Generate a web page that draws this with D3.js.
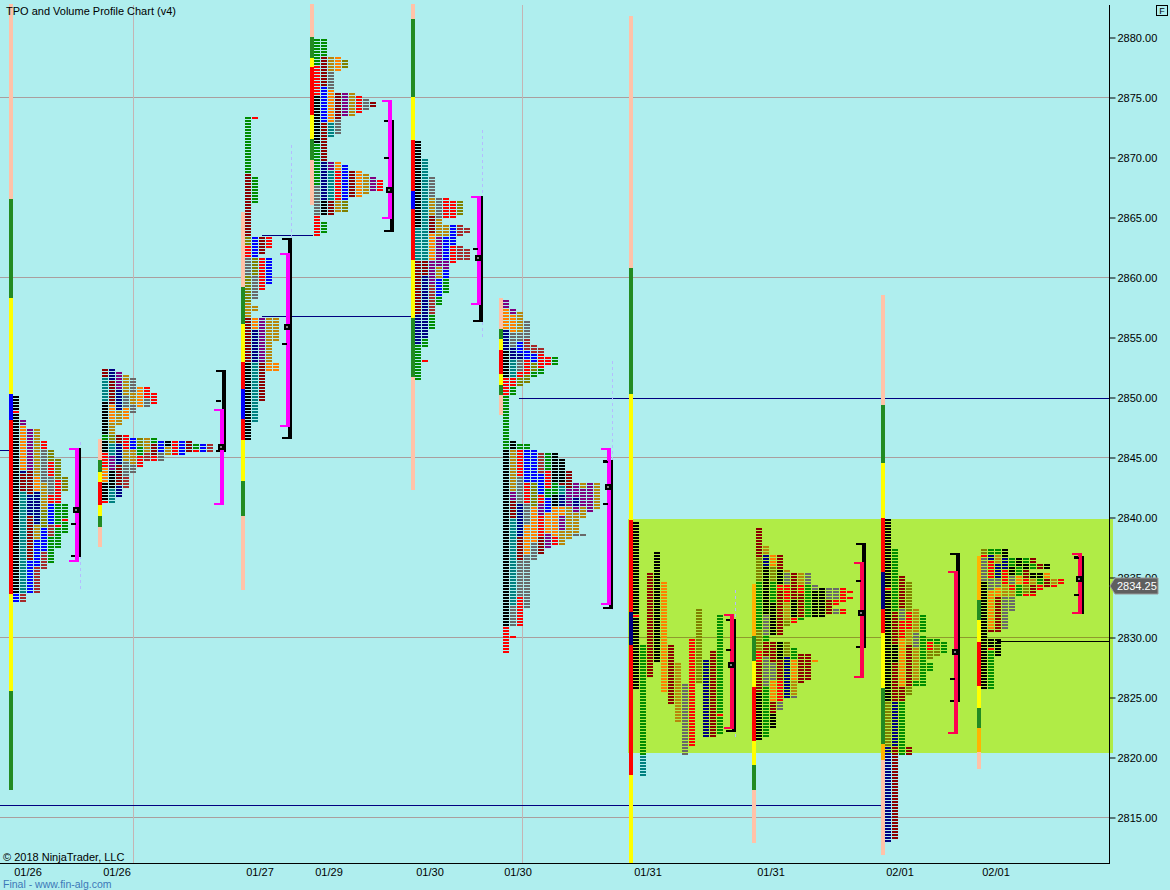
<!DOCTYPE html>
<html><head><meta charset="utf-8">
<script src="https://cdn.jsdelivr.net/npm/d3@7"></script>
<style>
html,body{margin:0;padding:0;background:#afeeee;}
svg{display:block;font-family:"Liberation Sans",Arial,sans-serif;}
</style></head>
<body>
<svg id="chart" width="1170" height="890"></svg>
<script>
// ---------------- DATA ----------------
const chartTitle = "TPO and Volume Profile Chart (v4)";
const priceTicks = [2880,2875,2870,2865,2860,2855,2850,2845,2840,2835,2830,2825,2820,2815];
const gridPrices = [2875,2860,2845,2830,2815];
const gridSlots = [19.0, 74.57];
const sessionLabels = ["01/26","01/26","01/27","01/29","01/30","01/30","01/31","01/31","02/01","02/01"];
const sessionSlot = [1.29,14.0,34.43,44.29,58.71,71.29,89.86,107.43,125.86,139.57];
const lastPrice = 2834.25;

// left session bars: colour:high:low
const sessionBars = [
 "s:2882.75:2866.5 g:2866.5:2858.25 y:2858.25:2850.25 b:2850.25:2848.1 r:2848.1:2833.6 y:2833.6:2825.5 g:2825.5:2817.25",
 "s:2846.5:2844.75 g:2844.75:2843.75 y:2843.75:2842.9 r:2842.9:2841.0 y:2841.0:2840.1 g:2840.1:2839.2 s:2839.2:2837.5",
 "s:2865.4:2859.2 g:2859.2:2856.1 y:2856.1:2852.9 r:2852.9:2850.7 b:2850.7:2848.2 r:2848.2:2846.4 y:2846.4:2843.0 g:2843.0:2840.1 s:2840.1:2833.9",
 "s:2882.75:2880.0 g:2880.0:2878.25 y:2878.25:2877.5 r:2877.5:2873.5 y:2873.5:2871.5 g:2871.5:2869.75 s:2869.75:2866.0",
 "s:2882.75:2881.5 g:2881.5:2875.0 y:2875.0:2871.4 r:2871.4:2867.2 b:2867.2:2865.7 r:2865.7:2861.4 y:2861.4:2856.6 g:2856.6:2851.7 s:2851.7:2842.25",
 "s:2858.25:2855.7 g:2855.7:2854.8 y:2854.8:2853.9 r:2853.9:2851.9 y:2851.9:2851.0 g:2851.0:2850.2 s:2850.2:2848.5",
 "s:2881.75:2860.75 g:2860.75:2850.25 y:2850.25:2839.75 r:2839.75:2832.1 n:2832.1:2829.3 r:2829.3:2818.5 y:2818.5:2811.2",
 "o:2834.4:2830.1 g:2830.1:2828.0 y:2828.0:2825.8 r:2825.8:2821.3 y:2821.3:2819.3 g:2819.3:2817.25 s:2817.25:2812.8",
 "s:2858.5:2849.3 g:2849.3:2844.5 y:2844.5:2839.9 r:2839.9:2835.4 n:2835.4:2832.3 r:2832.3:2830.3 y:2830.3:2825.75 g:2825.75:2821.1 o:2821.1:2819.75 s:2819.75:2811.8",
 "o:2836.75:2833.1 g:2833.1:2831.4 y:2831.4:2829.6 r:2829.6:2825.9 y:2825.9:2824.1 g:2824.1:2822.4 o:2822.4:2820.4 s:2820.4:2819.0"
];

// TPO columns per session: each column = runs colour:high:low (0.25 steps)
const tpo1 = [
 "K:2850:2849 R:2848.75 K:2848.5:2833.75 B:2833.5:2833",
 "P:2848:2847.75 A:2847.5:2844 N:2843.75 D:2843.5:2842.25 T:2842:2833.75 W:2833.5:2833",
 "P:2847.25:2844 D:2843.75:2842 N:2841.75:2840.25 D:2840:2836.5 B:2836.25:2833.75",
 "O:2847.25:2843.5 A:2843.25:2842.25 N:2842:2839.5 O:2839.25:2838.25 B:2838:2836 W:2835.75:2833.75",
 "R:2846.25:2845.75 G:2845.5:2843 O:2842.75:2840.75 L:2840.5:2839.25 B:2839:2837.25 W:2837:2835.75",
 "L:2845.5:2844.75 R:2844.5:2843.5 G:2843.25:2842 R:2841.75:2841.25 B:2841:2839.5 W:2839.25:2838.5 E:2838.25:2836.25",
 "L:2844.75:2843.25 R:2843:2841.25 E:2841:2839.5 R:2839.25 E:2839:2837.5",
 "L:2843.25:2842.25 E:2841:2840 R:2839.75 E:2839.5:2838.75"
];
const tpo2 = [
 "D:2852.25:2851.75 T:2851.5:2849.75 K:2849.5:2847 E:2846.75:2846.5 K:2846.25:2845.5 R:2845.25:2844.25 A:2844:2843 K:2842.75:2841.5 R:2841.25",
 "N:2852.25:2851.5 D:2851.25:2849.5 A:2849.25:2848 O:2847.75:2847 L:2846.75:2846.25 T:2846:2845.25 P:2845:2844 K:2843.75:2842.5 T:2842.25:2841.25",
 "P:2852:2850.75 N:2850.5:2849 O:2848.75:2847.75 D:2846.75:2846.25 N:2846:2844.5 D:2844.25:2842.75 N:2842.5:2841.75",
 "O:2851.75:2850.25 G:2850:2849.25 A:2849:2848.25 R:2846.75:2845.75 O:2845.5:2844.75 G:2844.5:2843.5 W:2843.25:2842.5",
 "G:2851.5:2850.5 O:2850.25:2849.5 G:2849.25:2848.75 B:2846.5:2845.75 O:2845.5:2844.5 G:2844.25:2843.75",
 "A:2850.75:2849.25 L:2846.5:2846 E:2845.75:2845.25 R:2845:2844.25",
 "R:2850.75:2850 G:2849.75:2849.25 O:2846.5:2845.5 W:2845.25:2844.75",
 "R:2850.25:2849.5 E:2846.5:2846.25 D:2846:2845.25 R:2845:2844.75",
 "B:2846.25:2845.5 G:2845.25:2844.75",
 "K:2846.25:2846 O:2845.75:2845.25",
 "R:2846.25:2845.25",
 "B:2846.25:2845.25",
 "D:2846.25:2845.5",
 "E:2846:2845.75 R:2845.5",
 "B:2846:2845.5",
 "W:2846:2845.5"
];
const tpo3 = [
 "E:2873.25:2868.75 D:2868.5:2863.5 L:2863.25:2862.75 R:2862.5:2861.75 G:2861.5:2860.25 L:2860:2858 O:2857.75:2856.75 D:2856.5:2853 K:2852.75:2846.5",
 "R:2873.25 E:2868.25:2866.25 B:2863.25:2861.75 L:2861.5:2860.25 G:2860:2858.25 O:2857.5:2857.25 A:2856.5:2855.75 N:2855.5:2853 T:2852.75:2848",
 "D:2863.25:2862 R:2861.5:2859 P:2856.5:2853 D:2852.75:2849.75",
 "R:2863.25:2862.5 B:2861.5:2859.5 O:2856.5:2853 A:2852.75:2852.25",
 "O:2856.5:2854.75 A:2852.75:2852.25"
];
const tpo4 = [
 "E:2879.75:2877.75 R:2877.5:2875.25 K:2875:2871.25 E:2871:2867.75 G:2867.5:2865.25 R:2865:2863.5",
 "E:2879.75:2878.5 D:2878.25:2876 B:2875.75:2873 D:2872.75:2869.75 N:2869.5:2866.5 K:2866.25:2865.25 E:2864.5:2863.75",
 "O:2878.25:2877.25 G:2877:2875.75 A:2875.5:2873 T:2872.75:2871.75 P:2869.5:2869 T:2868.75:2866.5 D:2866.25:2865.25",
 "A:2878.25:2877.25 D:2875.25:2873.25 G:2873:2872 A:2869.5:2869 R:2868.75:2866.5 O:2866.25:2865.5",
 "L:2878:2877.5 P:2875.25:2873.5 B:2869.25:2866.5 L:2866.25:2865.5",
 "O:2875.25:2873.5 D:2868.75:2866.75",
 "R:2875:2873.75 A:2868.75:2866.75",
 "G:2874.75:2874 O:2868.5:2867",
 "D:2874.5:2874.25 P:2868.25:2867.25",
 "R:2868:2867.25"
];
const tpo5 = [
 "K:2871.25:2864.25 T:2864:2861.5 D:2861.25:2857 N:2856.75:2854.5 E:2854.25:2851.5",
 "T:2869.75:2861.5 D:2861.25:2860.25 N:2860:2855 E:2854.75:2854.25 R:2853",
 "G:2868.25:2866.75 O:2866.5:2865.25 D:2865:2863.75 A:2863.5:2861.5 P:2861.25:2859.5 W:2859.25:2857 E:2856.75:2855.75",
 "G:2866.5:2865 O:2864.75:2863.5 P:2863.25:2861 O:2860.75:2860 B:2859.75:2858.5 E:2858.25:2857.75",
 "R:2866.5:2865 O:2864.25:2863.5 B:2863.25:2861.5 P:2861.25:2860.75 B:2860.5:2860 E:2859.75:2858.75",
 "R:2866.25:2865 B:2864.25:2862.75 R:2862.5:2861.25",
 "L:2866.25:2865.25 W:2864.25:2863.5 W:2862.5:2861.5",
 "W:2864:2863.75 W:2862.25:2861.5"
];
const tpo6 = [
 "P:2858:2857.5 A:2857.25:2855.75 N:2855.5:2854 K:2853.75:2851.75 R:2851.5:2850.25 E:2850:2845.75 K:2845.5:2831 R:2830.75:2828.75",
 "P:2857.25:2857 A:2856.75:2855.5 G:2855.25:2854.25 N:2854:2853.25 T:2853:2851.75 R:2851.5:2851 E:2850.75:2850.25 K:2846.25:2845.75 O:2845.5:2842.25 P:2842:2841.5 D:2841.25:2840 T:2839.75:2832.75 G:2832.5:2831 R:2830",
 "O:2857:2855.5 G:2855.25:2854.75 B:2854.5:2853.75 N:2853.5:2853.25 G:2853:2852.25 R:2852:2851.75 L:2851.5:2851 E:2846:2845.75 R:2845.5:2843.5 G:2843.25:2841.25 N:2841:2838.5 D:2838.25:2836.5 G:2836.25:2833.5 R:2833.25:2831",
 "G:2856.25:2855 W:2854.75:2854 B:2853.75:2853.25 R:2853:2852 L:2851.75:2851.25 E:2846:2845.75 B:2845.5:2843 R:2842.75:2841.25 G:2841:2839.5 A:2839.25:2837 G:2836.75:2832.5",
 "W:2854.25:2853.75 B:2853.5:2853 L:2852.75:2852.25 E:2852:2851.75 B:2845.5:2843 L:2842.75:2841 A:2840.75:2838 G:2837.75:2836.5",
 "W:2854:2853.75 R:2853.5:2852.5 E:2852.25:2852 W:2845.25:2843.75 B:2843.5:2842 R:2841.75:2841.25 P:2841:2840.25 R:2840:2838.5 D:2838.25:2837",
 "R:2853.25:2852.75 E:2845.25:2844 R:2843.75:2842.5 E:2842.25:2841.75 B:2841.5:2840.5 A:2840.25:2838.75 P:2838.5:2837.5",
 "E:2853.25:2852.75 K:2845.25:2843 E:2842.75:2842 K:2841.75:2841 A:2840.75:2838.5 R:2838.25:2837.75",
 "K:2844.75:2843 D:2842.75 T:2842.5:2842 N:2841.75:2841 A:2840.75:2840.25 P:2840:2839 O:2838.75:2837.75",
 "D:2843.75:2843 D:2842.75:2842.5 P:2842.25:2841 O:2840.75:2838.25",
 "P:2842.75:2841.75 N:2841.5:2841 P:2840.75:2840.5 O:2840.25:2838.75 G:2838.5",
 "O:2842.75:2842.5 P:2842.25:2841 O:2840.75:2840 G:2838.5",
 "P:2842.75:2840.5",
 "O:2842.75:2840.75"
];
const tpo7 = [
 "K:2839.5:2832 R:2831.75 K:2831.5:2825.75",
 "E:2829.25:2820.25 T:2820:2818.5",
 "D:2835.25:2826.75",
 "K:2837:2828",
 "A:2834.5:2825.5",
 "D:2829.25:2824.5",
 "O:2827.75:2823",
 "G:2826:2820.25",
 "R:2829.75:2821",
 "L:2832.25:2826.25",
 "N:2828:2821.75",
 "D:2828.75:2821.75",
 "E:2831.75:2823.75 R:2823.5 E:2823.25:2822"
];
const tpo8 = [
 "D:2839:2836.75 L:2836.5:2834.75 E:2834.5:2830.75 L:2830.5:2829 R:2828.75:2828 D:2827.75:2825.5 K:2825.25:2821.5",
 "O:2837.5:2837 N:2836.75:2836 K:2835.75:2832 G:2831.75:2830.25 E:2830:2829.75 D:2829.5:2828.5 G:2828.25:2826 E:2825.75:2821.75",
 "A:2836.75:2836 L:2835.75:2834.75 E:2834.5:2833 K:2832.75:2830.25 D:2829.5:2828 G:2827.75:2826.5 A:2826.25:2824.75 D:2824.5:2823.75 K:2823.5:2822.5",
 "D:2836.75:2835.75 K:2835.5:2834.5 R:2834.25:2834 D:2833.75:2830.25 K:2829.5:2828.25 D:2828:2826.5 R:2826.25:2824.75 G:2824.5:2824",
 "O:2835.5 G:2835.25:2834.5 R:2834.25:2833 O:2832.75:2831.5 L:2831.25:2831 L:2829.5:2828.5 N:2828.25:2826.5 N:2826.25:2825",
 "D:2835.25:2833.25 K:2833:2831.75 R:2831.5:2831.25 E:2829:2828.25 A:2828:2826.5 O:2826.25:2825.25 G:2825",
 "O:2835.25:2834.5 R:2834.25:2833.75 D:2833.5:2831.75 E:2831.5 D:2828.5:2826.25",
 "G:2835.25:2834.5 E:2834.25:2831.75 D:2828.5:2826.5",
 "G:2834.25:2834 K:2833.75:2831.75 A:2828",
 "K:2834:2831.75",
 "G:2834:2833.25 D:2833:2832",
 "G:2834:2833.25 R:2833:2832.75 G:2832.25:2832",
 "R:2834:2833 R:2832.25:2832",
 "R:2833.75 R:2833.25"
];
const tpo9 = [
 "K:2839.75:2834.25 R:2834 K:2833.75:2824.75 L:2824.5:2821 N:2820.75:2813",
 "E:2837.25:2832.25 D:2832:2829.5 K:2829.25:2828 D:2827.75:2824.75 N:2824.5:2821 D:2820.75:2813.25",
 "D:2835:2832.5 G:2832.25:2831.5 R:2831.25:2830 A:2829.75:2826 D:2825.75:2824.75 E:2824.5:2820.25",
 "L:2834.5:2832.25 R:2832:2830.75 O:2830.5:2829.5 D:2829.25:2826 L:2825.75:2825.25 D:2820.75:2820.25",
 "O:2832.25:2830.5 G:2830.25:2829.25 O:2829:2826.5 E:2826.25:2826",
 "E:2831.75:2830.5 E:2830:2826",
 "E:2829.75 R:2829.5:2829 L:2828.75:2828.25 E:2827.75:2827.25",
 "E:2829.75:2829.5 L:2829.25:2828.5",
 "E:2829.5:2828.75"
];
const tpo10 = [
 "L:2837.25:2837 R:2836.75 G:2836.5:2834.75 K:2834.5:2825.75",
 "E:2837.25:2837 N:2836.75:2836.5 R:2836.25:2835 G:2834.75:2834 A:2833.75:2830.75 D:2830.5 K:2829.75:2829.25 R:2829 E:2828.75:2825.75",
 "E:2837.25:2837 O:2836.75:2836.25 N:2836:2835 G:2834.75:2834.25 A:2834:2833.5 D:2833.25:2830.5 K:2829.75:2829 K:2828.75:2828.5",
 "K:2837.25:2836.75 N:2836.5:2835.75 R:2835.5:2834.5 O:2834.25:2833.5 G:2833.25:2830.75",
 "E:2836.5:2836 K:2835.75:2835.25 G:2835:2834.5 R:2834.25:2834 O:2833.75:2833.5 G:2833.25:2832.25",
 "K:2836.5:2836 E:2835.75:2835.25 A:2835:2834.5 E:2834.25:2833.5",
 "E:2836.5:2836.25 K:2836:2835.75 D:2835.5:2835 R:2834.75:2834.5 L:2834.25:2833.75 R:2833.5",
 "D:2836.5:2836.25 E:2836:2835.75 K:2835.25:2835 O:2834.75:2834.5 D:2834.25:2833.75 R:2833.5",
 "D:2836:2835.75 K:2835.25:2835 E:2834.75:2834.5 R:2834.25:2834",
 "K:2836:2835.75 A:2835.25:2835 D:2834.75:2834.5 D:2834.25",
 "O:2834.75:2834.5 R:2834.25",
 "R:2834.75:2834.5"
];
const tpoColumns = [tpo1,tpo2,tpo3,tpo4,tpo5,tpo6,tpo7,tpo8,tpo9,tpo10];

// value-area bracket, range bracket, POC
const bracketSlot = [10.71,31.43,40.86,55.43,68.14,86.71,104.29,122.86,136.29,154.0];
const vaHigh  = [2845.75,2849.0,2862.0,2874.75,2866.75,2845.75,2831.9,2836.25,2835.5,2837.0];
const vaLow   = [2836.4,2841.2,2847.67,2865.0,2857.83,2832.83,2822.5,2826.75,2822.1,2832.1];
const rangeHigh = [2845.75,2852.25,2863.25,2873.1,2866.75,2844.75,2831.5,2837.83,2837.0,2836.75];
const rangeLow  = [2836.83,2845.6,2846.67,2863.9,2856.4,2832.5,2822.25,2829.25,2824.75,2832.1];
const pocPrice  = [2840.6,2845.8,2855.8,2867.25,2861.6,2842.5,2827.7,2832.0,2828.75,2834.83];
const ibTicks   = [[2839.5],[2849.75],[2854.5],[2870.0],[2862.4],[2844.67,2841.2],[2829.0],[2834.75],[2826.6],[2836.67,2833.6]];
// faint dashed extension lines next to brackets
const dashHigh = [2846.25,null,2871.0,null,2872.25,2853.0,2833.9,null,null,null];
const dashLow  = [2833.8,null,2846.67,null,2854.75,2832.25,2821.6,null,null,null];

// horizontal level lines: price, fromSlot, toSlot, colour key
const levelPrice = [2816.0,2849.92,2856.75,2863.5,2829.67,2845.6];
const levelFrom  = [0,74.14,37.43,37.43,142.43,0];
const levelTo    = [126.0,158.43,59.0,44.71,158.43,1.71];
const levelKind  = ["n","n","n","n","k","n"];

// shaded zone
const zoneHigh = 2839.83, zoneLow = 2820.33, zoneFrom = 89.71, zoneTo = 159.0;

// ---------------- STYLE / LAYOUT ----------------
const tpoColor = {K:"#000000",T:"#008080",D:"#8b0000",N:"#000080",G:"#696969",O:"#b8860b",L:"#808000",P:"#800080",A:"#ff8000",R:"#ff0000",B:"#0000ff",W:"#a52a2a",E:"#008c00"};
const barColor = {s:"#ffc2a8",g:"#228b22",y:"#ffff00",r:"#ff0000",b:"#0000ff",n:"#000080",o:"#ffb400"};
const lineColor = {n:"#000080",k:"#000000"};
const W = 1170, H = 890, axisX = 1109, axisTop = 5, axisBottom = 863;

const svg = d3.select("#chart");
const x = d3.scaleLinear().domain([0, 158.43]).range([0, axisX]);
const y = d3.scaleLinear().domain([2815, 2880]).range([817, 37]);
const px = v => Math.round(x(v));
const py = v => Math.round(y(v));

function parseRuns(str){
  return str.trim().split(/\s+/).map(t=>{
    const a=t.split(":"); const hi=+a[1]; const lo=a.length>2?+a[2]:hi;
    return {c:a[0],hi,lo};
  });
}

svg.append("rect").attr("width",W).attr("height",H).attr("fill","#afeeee");

// grid
const grid = svg.append("g");
grid.selectAll("line.h").data(gridPrices).join("line")
  .attr("x1",0).attr("x2",axisX).attr("y1",d=>py(d)+0.5).attr("y2",d=>py(d)+0.5)
  .attr("stroke","#aa9e9e").attr("stroke-width",1);
grid.selectAll("line.v").data(gridSlots).join("line")
  .attr("x1",d=>px(d)+0.5).attr("x2",d=>px(d)+0.5).attr("y1",axisTop).attr("y2",axisBottom)
  .attr("stroke","#c4b4b4").attr("stroke-width",1);

// zone
svg.append("rect").attr("x",px(zoneFrom)).attr("y",py(zoneHigh))
  .attr("width",px(zoneTo)-px(zoneFrom)).attr("height",py(zoneLow)-py(zoneHigh))
  .attr("fill","#b0ec46");
svg.append("g").selectAll("line").data(gridPrices.filter(p=>p<zoneHigh&&p>zoneLow)).join("line")
  .attr("x1",px(zoneFrom)).attr("x2",axisX).attr("y1",d=>py(d)+0.5).attr("y2",d=>py(d)+0.5)
  .attr("stroke","#8f9a2c").attr("stroke-width",1);

// level lines
svg.append("g").selectAll("line").data(levelPrice).join("line")
  .attr("x1",(d,i)=>px(levelFrom[i])).attr("x2",(d,i)=>px(levelTo[i]))
  .attr("y1",d=>py(d)+0.5).attr("y2",d=>py(d)+0.5)
  .attr("stroke",(d,i)=>lineColor[levelKind[i]]).attr("stroke-width",1);

// dashed extensions
svg.append("g").selectAll("line").data(dashHigh.map((h,i)=>({h,l:dashLow[i],i})).filter(d=>d.h!==null)).join("line")
  .attr("x1",d=>px(bracketSlot[d.i])+5.5).attr("x2",d=>px(bracketSlot[d.i])+5.5)
  .attr("y1",d=>py(d.h)).attr("y2",d=>py(d.l))
  .attr("stroke","#b4bcff").attr("stroke-width",1).attr("stroke-dasharray","3,3");

// sessions
const gS = svg.append("g");
sessionSlot.forEach((slot,i)=>{
  const x0 = px(slot);
  parseRuns(sessionBars[i]).forEach(r=>{
    gS.append("rect").attr("x",x0).attr("y",py(r.hi)).attr("width",4)
      .attr("height",Math.max(1,py(r.lo)-py(r.hi))).attr("fill",barColor[r.c]);
  });
  tpoColumns[i].forEach((colStr,k)=>{
    const cx = px(slot+k)+4;
    parseRuns(colStr).forEach(r=>{
      for(let p=r.hi; p>=r.lo-1e-6; p-=0.25){
        gS.append("rect").attr("x",cx).attr("y",py(p)-1).attr("width",6).attr("height",2)
          .attr("fill",tpoColor[r.c]);
      }
    });
  });
  const xb = px(bracketSlot[i]);
  const vaCol = i<6 ? "#ff00ff" : "#ff0050";
  const rh=py(rangeHigh[i]), rl=py(rangeLow[i]);
  gS.append("rect").attr("x",xb+2).attr("y",rh).attr("width",4).attr("height",rl-rh+2).attr("fill","#000");
  gS.append("rect").attr("x",xb-4).attr("y",rh).attr("width",10).attr("height",2).attr("fill","#000");
  gS.append("rect").attr("x",xb-4).attr("y",rl).attr("width",10).attr("height",2).attr("fill","#000");
  const vh=py(vaHigh[i]), vl=py(vaLow[i]);
  gS.append("rect").attr("x",xb).attr("y",vh).attr("width",4).attr("height",vl-vh+2).attr("fill",vaCol);
  gS.append("rect").attr("x",xb-6).attr("y",vh).attr("width",10).attr("height",2).attr("fill",vaCol);
  gS.append("rect").attr("x",xb-6).attr("y",vl).attr("width",10).attr("height",2).attr("fill",vaCol);
  ibTicks[i].forEach(p=>{
    gS.append("rect").attr("x",xb-4).attr("y",py(p)).attr("width",5).attr("height",2).attr("fill","#000");
  });
  const yp = py(pocPrice[i]);
  gS.append("rect").attr("x",xb-2).attr("y",yp-3).attr("width",7).attr("height",6).attr("fill","#000");
  gS.append("rect").attr("x",xb).attr("y",yp-0.5).attr("width",2).attr("height",1).attr("fill","#fff");
});

// axes
svg.append("line").attr("x1",axisX+0.5).attr("x2",axisX+0.5).attr("y1",axisTop).attr("y2",axisBottom+1)
  .attr("stroke","#000");
svg.append("line").attr("x1",0).attr("x2",axisX+1).attr("y1",axisBottom+0.5).attr("y2",axisBottom+0.5)
  .attr("stroke","#000");
const yAxis = d3.axisRight(y).tickValues(priceTicks).tickFormat(d3.format(".2f")).tickSize(6).tickPadding(2);
const ga = svg.append("g").attr("transform",`translate(${axisX+0.5},0.5)`).call(yAxis);
ga.select(".domain").remove();
ga.selectAll("text").attr("font-size",11).attr("fill","#000").attr("font-family","'Liberation Sans',Arial,sans-serif");
ga.selectAll("line").attr("stroke","#000");

// x labels
svg.append("g").selectAll("text").data(sessionLabels).join("text")
  .attr("x",(d,i)=>px(sessionSlot[i])+19).attr("y",876).attr("text-anchor","middle")
  .attr("font-size",11).attr("fill","#000").text(d=>d);

// title & credits
svg.append("text").attr("x",6).attr("y",15).attr("font-size",11).attr("fill","#000").text(chartTitle);
svg.append("text").attr("x",3).attr("y",861).attr("font-size",11).attr("fill","#000").text("\u00A9 2018 NinjaTrader, LLC");
svg.append("text").attr("x",3).attr("y",888).attr("font-size",10.5).attr("fill","#3c78b8").text("Final - www.fin-alg.com");

// F box
svg.append("rect").attr("x",1156.5).attr("y",5.5).attr("width",11).attr("height",10).attr("fill","none").attr("stroke","#000");
svg.append("text").attr("x",1162).attr("y",14).attr("text-anchor","middle").attr("font-size",9).attr("fill","#000").text("F");

// last price flag
const yl = py(lastPrice);
svg.append("path").attr("d",`M${axisX+1},${yl} L${axisX+6},${yl-8} L${axisX+49},${yl-8} L${axisX+49},${yl+8} L${axisX+6},${yl+8} Z`)
  .attr("fill","#5f5f5f").attr("stroke","#9a9a9a");
svg.append("text").attr("x",axisX+8).attr("y",yl+4).attr("font-size",11).attr("fill","#fff").text(d3.format(".2f")(lastPrice));
</script>
</body></html>
